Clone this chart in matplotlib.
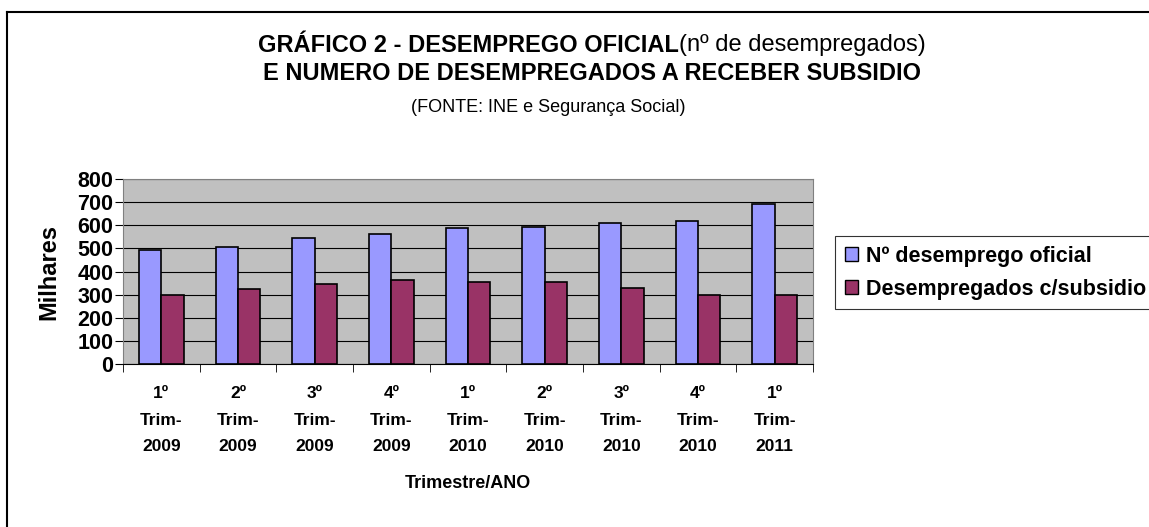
import numpy as np
import matplotlib.pyplot as plt
from matplotlib.lines import Line2D
from matplotlib.patches import Patch

plt.rcParams['font.family'] = ['Liberation Sans', 'DejaVu Sans']

categories = ['1º\nTrim-\n2009', '2º\nTrim-\n2009', '3º\nTrim-\n2009', '4º\nTrim-\n2009',
              '1º\nTrim-\n2010', '2º\nTrim-\n2010', '3º\nTrim-\n2010', '4º\nTrim-\n2010',
              '1º\nTrim-\n2011']
desemprego_oficial = [493, 508, 543, 561, 590, 591, 609, 617, 692]
com_subsidio = [298, 323, 346, 363, 355, 355, 330, 298, 298]
series_names = ['Nº desemprego oficial', 'Desempregados c/subsidio']
yticks = [0, 100, 200, 300, 400, 500, 600, 700, 800]

W, H = 1149, 527
fig = plt.figure(figsize=(W / 100, H / 100), dpi=100)

# frame of the embedded chart (only left and top show)
fig.add_artist(Line2D([7 / W, 7 / W], [0, 1 - 12 / H], color='black', lw=1.5))
fig.add_artist(Line2D([7 / W, 1], [1 - 12 / H, 1 - 12 / H], color='black', lw=1.5))

ax = fig.add_axes([123 / W, 1 - 364 / H, (813 - 123) / W, (364 - 179) / H])
ax.set_facecolor('#C0C0C0')

x = np.arange(len(categories))
bw = 0.293
ax.bar(x - bw / 2, desemprego_oficial, bw, color='#9999FF', edgecolor='black', lw=1.2, zorder=3)
ax.bar(x + bw / 2, com_subsidio, bw, color='#993366', edgecolor='black', lw=1.2, zorder=3)

ax.set_xlim(-0.5, len(categories) - 0.5)
ax.set_ylim(0, 800)
ax.set_yticks(yticks)
ax.grid(axis='y', color='black', lw=0.8, zorder=1)
ax.set_axisbelow(True)
for s in ['top', 'right', 'left']:
    ax.spines[s].set_color('#808080')
ax.spines['bottom'].set_color('black')

ax.set_xticks(x)
ax.set_xticklabels(categories, fontsize=12.5, fontweight='bold', linespacing=1.95)
ax.tick_params(axis='x', length=0, pad=16)
ax.set_xticks(np.arange(len(categories) + 1) - 0.5, minor=True)
ax.tick_params(axis='x', which='minor', length=6, color='black', direction='out')
ax.tick_params(axis='y', length=6, color='black', pad=1)
for lbl in ax.get_yticklabels():
    lbl.set_fontsize(15.5)
    lbl.set_fontweight('bold')

ax.set_ylabel('Milhares', fontsize=17, fontweight='bold', labelpad=12)
ax.set_xlabel('Trimestre/ANO', fontsize=13, fontweight='bold', labelpad=15)

# titles: first line mixes bold and regular text
t1 = fig.text(0, 1 - 45 / H, 'GRÁFICO 2 - DESEMPREGO OFICIAL', ha='left', va='center',
              fontsize=17, fontweight='bold')
t2 = fig.text(0, 1 - 45 / H, '(nº de desempregados)', ha='left', va='center', fontsize=17)
fig.canvas.draw()
w1 = t1.get_window_extent().width
w2 = t2.get_window_extent().width
x0 = 592 - (w1 + w2) / 2
t1.set_x(x0 / W)
t2.set_x((x0 + w1) / W)
fig.text(592 / W, 1 - 74 / H, 'E NUMERO DE DESEMPREGADOS A RECEBER SUBSIDIO', ha='center',
         va='center', fontsize=17, fontweight='bold')
fig.text(548 / W, 1 - 107 / H, '(FONTE: INE e Segurança Social)', ha='center', va='center',
         fontsize=13)

handles = [Patch(facecolor='#9999FF', edgecolor='black'), Patch(facecolor='#993366', edgecolor='black')]
leg = fig.legend(handles, series_names, loc='upper left', bbox_to_anchor=(835 / W, 1 - 236 / H),
                 prop={'weight': 'bold', 'size': 15.5}, frameon=True, fancybox=False,
                 handlelength=0.6, handleheight=0.6, handletextpad=0.4, labelspacing=0.55,
                 borderaxespad=0, borderpad=0.45)
leg.get_frame().set_edgecolor('black')
leg.get_frame().set_linewidth(0.8)

fig.savefig('out.png', dpi=100)
